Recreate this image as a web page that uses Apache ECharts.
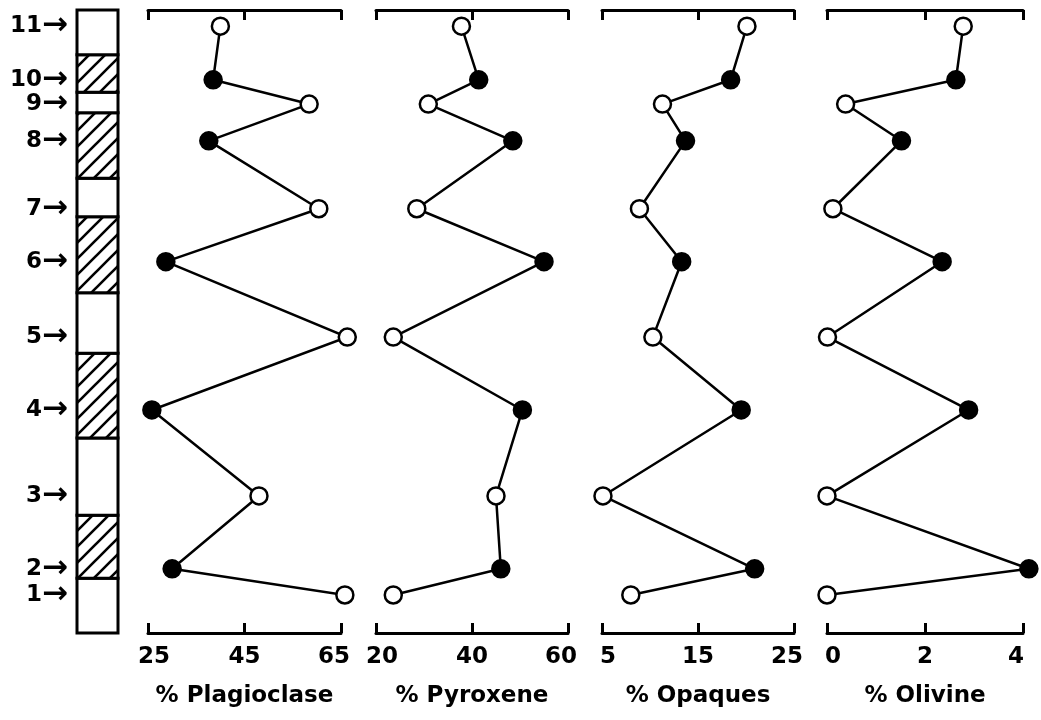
<!DOCTYPE html>
<html>
<head>
<meta charset="utf-8">
<script src="https://cdn.jsdelivr.net/npm/echarts@6/dist/echarts.min.js"></script>
<style>
html,body{margin:0;padding:0;background:#fff;}
#chart{width:1041px;height:720px;}
</style>
</head>
<body>
<div id="chart"></div>
<script>
// ---- data ----
const sampleNumbers = [1, 2, 3, 4, 5, 6, 7, 8, 9, 10, 11];
const sampleHeights = [6.1, 10.3, 22.0, 35.8, 47.5, 59.6, 68.1, 79.0, 84.9, 88.8, 97.4];
const sampleFilled = [false, true, false, true, false, true, false, true, false, true, false];

const plagioclase = [65.8, 30.0, 48.0, 25.8, 66.3, 28.7, 60.4, 37.6, 58.4, 38.5, 40.0];
const pyroxene    = [23.6, 46.0, 45.0, 50.5, 23.6, 55.0, 28.5, 48.5, 30.9, 41.4, 37.8];
const opaques     = [8.0, 20.9, 5.1, 19.5, 10.3, 13.3, 8.9, 13.7, 11.3, 18.4, 20.1];
const olivine     = [0.0, 4.12, 0.0, 2.89, 0.01, 2.35, 0.12, 1.52, 0.38, 2.63, 2.78];

const plagioclaseTicks = [25, 45, 65];
const pyroxeneTicks    = [20, 40, 60];
const opaquesTicks     = [5, 15, 25];
const olivineTicks     = [0, 2, 4];

const panelNames = ['% Plagioclase', '% Pyroxene', '% Opaques', '% Olivine'];

const unitBottoms = [0, 8.8, 18.9, 31.3, 44.9, 54.6, 66.8, 73.0, 83.5, 86.8, 92.8];
const unitTops    = [8.8, 18.9, 31.3, 44.9, 54.6, 66.8, 73.0, 83.5, 86.8, 92.8, 100];
const unitHatched = [false, true, false, true, false, true, false, true, false, true, false];

// ---- chart ----
const FONT = 'DejaVu Sans';
const chart = echarts.init(document.getElementById('chart'), null, {renderer: 'canvas'});

// hatch pattern
const hatch = document.createElement('canvas');
const HS = 16;
hatch.width = HS; hatch.height = HS;
(function () {
  const c = hatch.getContext('2d');
  c.fillStyle = '#fff'; c.fillRect(0, 0, HS, HS);
  c.strokeStyle = '#000'; c.lineWidth = 2.6;
  c.beginPath();
  c.moveTo(-2, HS + 2); c.lineTo(HS + 2, -2);
  c.moveTo(-2, 2); c.lineTo(2, -2);
  c.moveTo(HS - 2, HS + 2); c.lineTo(HS + 2, HS - 2);
  c.stroke();
})();

const panels = [
  {values: plagioclase, ticks: plagioclaseTicks, left: 148, width: 193},
  {values: pyroxene,    ticks: pyroxeneTicks,    left: 376, width: 192},
  {values: opaques,     ticks: opaquesTicks,     left: 602, width: 192},
  {values: olivine,     ticks: olivineTicks,     left: 827, width: 196}
];

const TOP = 10, BOTTOM = 87;
const grids = [{left: 77, width: 41, top: TOP, bottom: BOTTOM}];
const xAxes = [{gridIndex: 0, type: 'value', min: 0, max: 1, show: false}];
const yAxes = [{gridIndex: 0, type: 'value', min: 0, max: 100, show: false}];

const series = [{
  type: 'custom',
  xAxisIndex: 0, yAxisIndex: 0,
  clip: false,
  data: unitBottoms.map(function (b, i) { return [b, unitTops[i], unitHatched[i] ? 1 : 0]; }),
  encode: {y: [0, 1]},
  renderItem: function (params, api) {
    const p0 = api.coord([0, api.value(1)]);
    const p1 = api.coord([1, api.value(0)]);
    return {
      type: 'rect',
      shape: {x: p0[0], y: p0[1], width: p1[0] - p0[0], height: p1[1] - p0[1]},
      style: {
        fill: api.value(2) ? {image: hatch, repeat: 'repeat'} : '#fff',
        stroke: '#000', lineWidth: 3
      }
    };
  }
}, {
  // sample number labels with arrows, left of the column
  type: 'scatter',
  xAxisIndex: 0, yAxisIndex: 0,
  clip: false,
  symbolSize: 0,
  silent: true,
  itemStyle: {opacity: 1, color: '#000'},
  data: sampleHeights.map(function (h, i) { return [0, h, sampleNumbers[i]]; }),
  label: {
    show: true, position: 'left', distance: 9, color: '#000', opacity: 1,
    formatter: function (p) { return '{n|' + p.value[2] + '}{a|→}'; },
    rich: {
      n: {fontFamily: FONT, fontWeight: 'bold', fontSize: 23, color: '#000'},
      a: {fontFamily: FONT, fontWeight: 'bold', fontSize: 31, color: '#000'}
    }
  },
  labelLayout: {hideOverlap: false}
}];

function richLabel(ticks) {
  return function (v) {
    if (v === ticks[0]) return '{l|' + v + '}';
    if (v === ticks[ticks.length - 1]) return '{r|' + v + '}';
    return '{m|' + v + '}';
  };
}
const labelStyle = {fontFamily: FONT, fontWeight: 'bold', fontSize: 23, color: '#000'};

panels.forEach(function (p, k) {
  const gi = k + 1;
  grids.push({left: p.left, width: p.width, top: TOP, bottom: BOTTOM});
  const mn = p.ticks[0], mx = p.ticks[p.ticks.length - 1];
  // bottom axis
  xAxes.push({
    gridIndex: gi, type: 'value', position: 'bottom', min: mn, max: mx,
    axisLine: {show: true, lineStyle: {color: '#000', width: 3, cap: 'round'}},
    axisTick: {show: true, inside: true, length: 10, customValues: p.ticks, lineStyle: {color: '#000', width: 3}},
    axisLabel: {
      customValues: p.ticks, margin: 13, formatter: richLabel(p.ticks),
      rich: {
        l: Object.assign({padding: [0, 0, 0, 12]}, labelStyle),
        m: Object.assign({}, labelStyle),
        r: Object.assign({padding: [0, 14, 0, 0]}, labelStyle)
      }
    },
    splitLine: {show: false},
    name: panelNames[k], nameLocation: 'middle', nameGap: 52,
    nameTextStyle: {fontFamily: FONT, fontWeight: 'bold', fontSize: 23, color: '#000'}
  });
  // top axis
  xAxes.push({
    gridIndex: gi, type: 'value', position: 'top', min: mn, max: mx,
    axisLine: {show: true, lineStyle: {color: '#000', width: 3, cap: 'round'}},
    axisTick: {show: true, inside: true, length: 10, customValues: p.ticks, lineStyle: {color: '#000', width: 3}},
    axisLabel: {show: false},
    splitLine: {show: false}
  });
  yAxes.push({gridIndex: gi, type: 'value', min: 0, max: 100, show: false});
  series.push({
    type: 'line',
    xAxisIndex: xAxes.length - 2, yAxisIndex: yAxes.length - 1,
    clip: false,
    symbol: 'circle', symbolSize: 17,
    lineStyle: {color: '#000', width: 2.5},
    itemStyle: {borderColor: '#000', borderWidth: 2.5},
    emphasis: {disabled: true},
    z: 3,
    data: p.values.map(function (v, i) {
      return {value: [v, sampleHeights[i]], itemStyle: {color: sampleFilled[i] ? '#000' : '#fff'}};
    })
  });
});

chart.setOption({
  animation: false,
  backgroundColor: '#fff',
  grid: grids,
  xAxis: xAxes,
  yAxis: yAxes,
  series: series
});
</script>
</body>
</html>
